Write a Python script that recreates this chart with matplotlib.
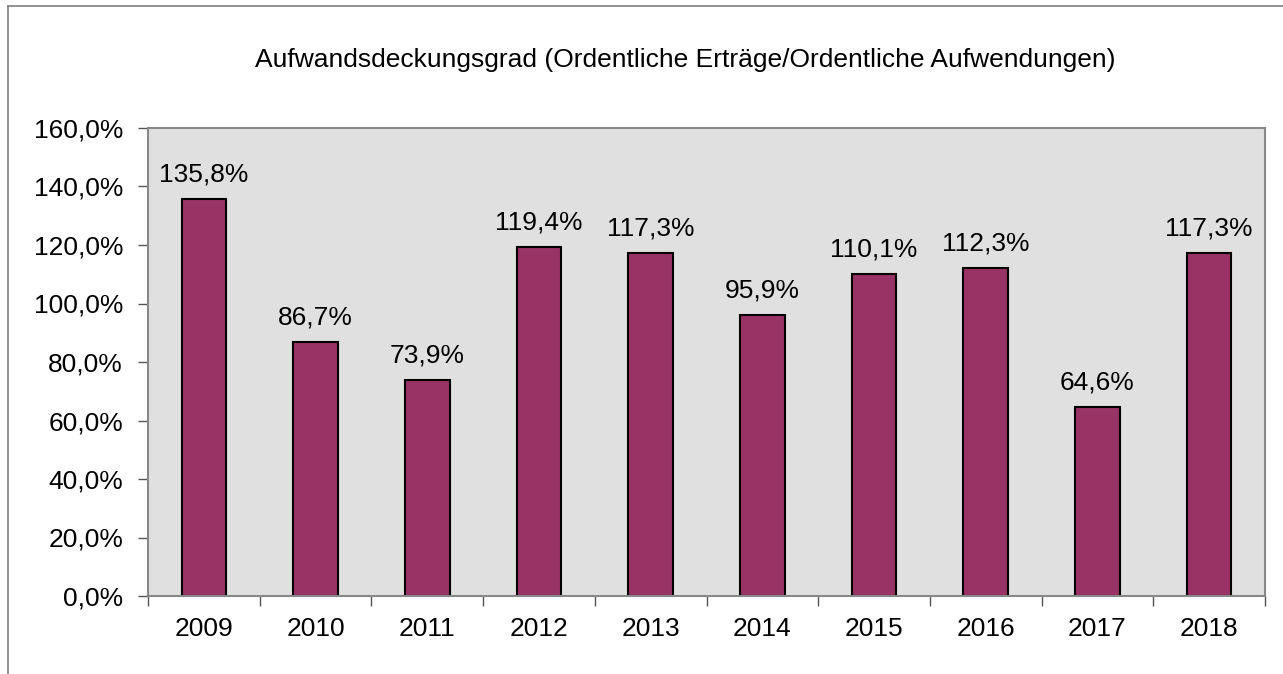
import matplotlib
matplotlib.use('Agg')
import matplotlib.pyplot as plt
from matplotlib.lines import Line2D
from matplotlib.ticker import FuncFormatter
import numpy as np

plt.rcParams['font.family'] = ['Liberation Sans', 'DejaVu Sans']

# data
years = ['2009', '2010', '2011', '2012', '2013', '2014', '2015', '2016', '2017', '2018']
quote = [135.8, 86.7, 73.9, 119.4, 117.3, 95.9, 110.1, 112.3, 64.6, 117.3]

W, H = 1283, 674
fs = 19
fig = plt.figure(figsize=(W / 100, H / 100), dpi=100)
ax = fig.add_axes([148 / W, 1 - 596 / H, (1265 - 148) / W, (596 - 128) / H])

x = np.arange(len(years))
ax.bar(x, quote, width=0.4, color='#993366', edgecolor='black', linewidth=1.5, zorder=2)
for xi, v in zip(x, quote):
    ax.annotate(f'{v:.1f}%'.replace('.', ','), (xi, v), xytext=(0, 9),
                textcoords='offset points', ha='center', va='bottom', fontsize=fs)

ax.set_xlim(-0.5, len(years) - 0.5)
ax.set_ylim(0, 160)
ax.set_yticks(np.arange(0, 161, 20))
ax.yaxis.set_major_formatter(FuncFormatter(lambda v, p: f'{v:.1f}%'.replace('.', ',')))
ax.set_xticks(x)
ax.set_xticklabels(years)
ax.set_xticks(np.arange(-0.5, len(years), 1), minor=True)
ax.tick_params(axis='x', which='major', length=0, pad=15, labelsize=fs)
ax.tick_params(axis='x', which='minor', length=7, width=1, color='#555555')
ax.tick_params(axis='y', length=7, width=1, color='#555555', pad=11, labelsize=fs)

ax.set_facecolor('#e0e0e0')
for s in ax.spines.values():
    s.set_color('#888888')
    s.set_linewidth(1.5)

fig.text(685 / W, 1 - 60 / H, 'Aufwandsdeckungsgrad (Ordentliche Erträge/Ordentliche Aufwendungen)',
         ha='center', va='center', fontsize=fs)

# outer chart border (cut off on right and bottom)
fig.add_artist(Line2D([8 / W, 8 / W], [0, 1 - 6 / H], transform=fig.transFigure, color='#808080', lw=1.2))
fig.add_artist(Line2D([8 / W, 1], [1 - 6 / H, 1 - 6 / H], transform=fig.transFigure, color='#808080', lw=1.2))

fig.savefig('out.png', dpi=100)
